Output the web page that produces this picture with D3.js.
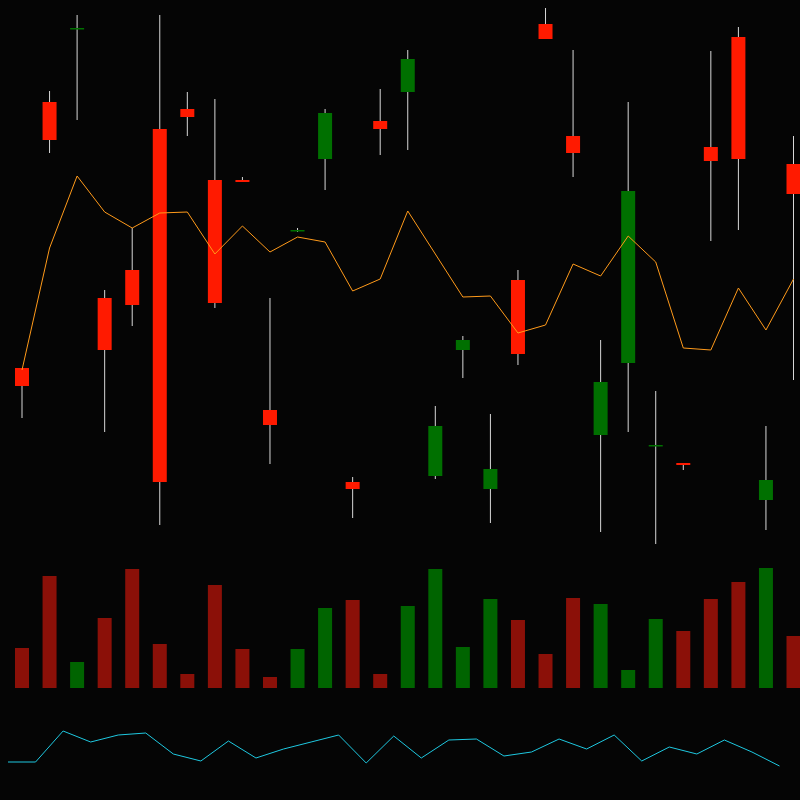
<!DOCTYPE html>
<html><head><meta charset="utf-8">
<script src="https://cdn.jsdelivr.net/npm/d3@7"></script>
<style>html,body{margin:0;background:#050505;}</style></head>
<body><svg id="c" width="800" height="800"></svg>
<script>
const openV  =[154,400,512,190,235,58,423,237,358,115,310,427,51,411,481,114,200,71,186,501,387,158,349,95,75,379,381,60,346];
const closeV =[172,438,511,242,270,411,431,360,360,130,309,381,58,419,448,64,190,51,260,516,404,105,177,94,77,393,503,40,376];
const highV  =[172,449,525,250,312,525,448,441,363,242,312,431,63,451,490,134,204,126,270,532,490,200,438,149,77,489,513,114,404];
const lowV   =[122,387,420,108,214,15,404,232,358,76,308,350,22,385,390,61,162,17,175,501,363,8,108,-4,70,299,310,10,160];
const maV    =[170,292,364,328,312,327,328,286,314,288,303,298,249,261,329,286,243,244,207,215,276,264,304,278,192,190,252,210,261];
const volV   =[40,112,26,70,119,44,14,103,39,11,39,80,88,14,82,119,41,89,68,34,90,84,18,69,57,89,106,120,52];
const indV   =[38,38,69,58,65,67,46,39,59,42,51,58,65,37,64,42,60,61,44,48,61,51,65,39,53,46,60,48,34];
const idx = d3.range(openV.length);
const svg=d3.select('#c');
svg.append('rect').attr('width',800).attr('height',800).attr('fill','#050505');
const x=d3.scaleLinear().domain([0,28]).range([22,793.5]);
const y=d3.scaleLinear().domain([0,540]).range([540,0]);
const yv=d3.scaleLinear().domain([0,120]).range([688,568]);
const yi=d3.scaleLinear().domain([0,100]).range([800,700]);
const up=i=>closeV[i]>openV[i];
const bw=14;
svg.append('g').selectAll('line').data(idx).join('line')
 .attr('x1',i=>x(i)).attr('x2',i=>x(i)).attr('y1',i=>y(highV[i])).attr('y2',i=>y(lowV[i]))
 .attr('stroke','#d8d8d8').attr('stroke-width',1);
svg.append('g').selectAll('rect').data(idx).join('rect')
 .attr('x',i=>x(i)-bw/2).attr('width',bw)
 .attr('y',i=>y(Math.max(openV[i],closeV[i])))
 .attr('height',i=>Math.max(1.5,Math.abs(y(openV[i])-y(closeV[i]))))
 .attr('fill',i=>up(i)?'#ff1a00':'#007000');
svg.append('path').datum(idx).attr('fill','none').attr('stroke','#ff9a1a').attr('stroke-width',1)
 .attr('d',d3.line().x(i=>x(i)).y(i=>y(maV[i])));
svg.append('g').selectAll('rect').data(idx).join('rect')
 .attr('x',i=>x(i)-bw/2).attr('width',bw)
 .attr('y',i=>yv(volV[i])).attr('height',i=>yv(0)-yv(volV[i]))
 .attr('fill',i=>up(i)?'#8b1008':'#006400');
svg.append('path').datum(idx).attr('fill','none').attr('stroke','#1ec8e0').attr('stroke-width',1)
 .attr('d',d3.line().x(i=>x(i)-14).y(i=>yi(indV[i])));
</script></body></html>
